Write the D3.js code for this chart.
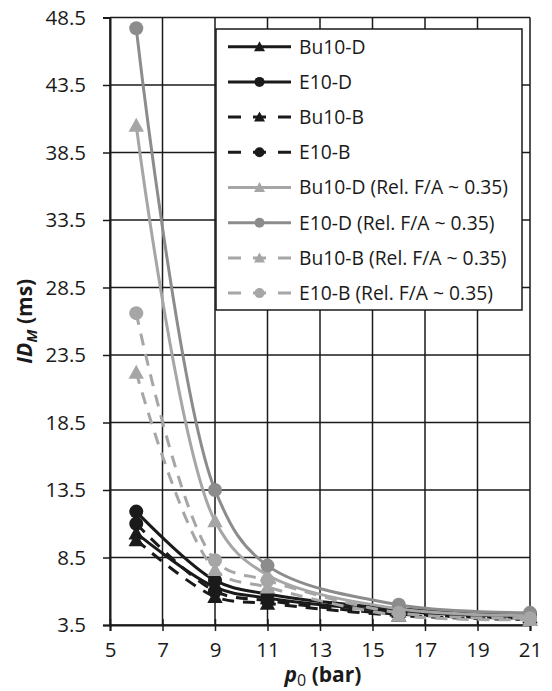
<!DOCTYPE html>
<html>
<head>
<meta charset="utf-8">
<script src="https://cdn.jsdelivr.net/npm/d3@7"></script>
<style>
  body { margin: 0; background: #fff; }
  svg text { font-family: "Open Sans", "Noto Sans", sans-serif; fill: #1a1a1a; }
</style>
</head>
<body>
<div id="chart"></div>
<script>
// Data
const pressures = [6, 9, 11, 16, 21];
const xTicks = [5, 7, 9, 11, 13, 15, 17, 19, 21];
const yTicks = [3.5, 8.5, 13.5, 18.5, 23.5, 28.5, 33.5, 38.5, 43.5, 48.5];

const bu10D = [10.3, 6.3, 5.5, 4.5, 4.1];
const e10D = [11.9, 6.8, 5.8, 4.7, 4.3];
const bu10B = [9.8, 5.6, 5.1, 4.2, 3.9];
const e10B = [11.0, 6.0, 5.3, 4.3, 4.0];
const bu10DRel = [40.5, 11.2, 7.2, 4.7, 4.2];
const e10DRel = [47.7, 13.5, 7.9, 5.0, 4.4];
const bu10BRel = [22.2, 7.6, 6.3, 4.2, 3.9];
const e10BRel = [26.6, 8.3, 6.8, 4.4, 4.0];

const seriesNames = [
  'Bu10-D', 'E10-D', 'Bu10-B', 'E10-B',
  'Bu10-D (Rel. F/A ~ 0.35)', 'E10-D (Rel. F/A ~ 0.35)',
  'Bu10-B (Rel. F/A ~ 0.35)', 'E10-B (Rel. F/A ~ 0.35)'
];
const seriesValues = [bu10D, e10D, bu10B, e10B, bu10DRel, e10DRel, bu10BRel, e10BRel];

// Styles per series
const styles = [
  { color: '#1a1a1a', dash: null, marker: 'tri' },
  { color: '#1a1a1a', dash: null, marker: 'circ' },
  { color: '#1a1a1a', dash: '12,9', marker: 'tri' },
  { color: '#1a1a1a', dash: '12,9', marker: 'circ' },
  { color: '#a6a6a6', dash: null, marker: 'tri' },
  { color: '#8c8c8c', dash: null, marker: 'circ' },
  { color: '#a6a6a6', dash: '12,9', marker: 'tri' },
  { color: '#a6a6a6', dash: '12,9', marker: 'circ' }
];

const W = 552, H = 691;
const plot = { left: 110, right: 530, top: 17.5, bottom: 625 };

const svg = d3.select('#chart').append('svg')
  .attr('width', W).attr('height', H);

const x = d3.scaleLinear().domain([5, 21]).range([plot.left, plot.right]);
const y = d3.scaleLinear().domain([3.5, 48.5]).range([plot.bottom, plot.top]);

// Grid
const grid = svg.append('g');
grid.selectAll('line.v').data(xTicks).enter().append('line')
  .attr('x1', d => x(d)).attr('x2', d => x(d))
  .attr('y1', plot.top).attr('y2', plot.bottom)
  .attr('stroke', '#1a1a1a').attr('stroke-width', 1.5);
grid.selectAll('line.h').data(yTicks).enter().append('line')
  .attr('x1', plot.left).attr('x2', plot.right)
  .attr('y1', d => y(d)).attr('y2', d => y(d))
  .attr('stroke', '#1a1a1a').attr('stroke-width', 1.5);

// Axes
const yAxis = d3.axisLeft(y).tickValues(yTicks).tickFormat(d3.format('.1f')).tickSize(7).tickPadding(17);
const xAxis = d3.axisBottom(x).tickValues(xTicks).tickFormat(d3.format('d')).tickSize(6).tickPadding(11);

const gy = svg.append('g').attr('transform', `translate(${plot.left},0)`).call(yAxis);
const gx = svg.append('g').attr('transform', `translate(0,${plot.bottom})`).call(xAxis);
[gx, gy].forEach(g => {
  g.select('.domain').attr('stroke', '#1a1a1a').attr('stroke-width', 2);
  g.selectAll('.tick line').attr('stroke', '#1a1a1a').attr('stroke-width', 1.5);
  g.selectAll('.tick text').style('font-size', '20.5px').attr('fill', '#1a1a1a');
});
gx.selectAll('.tick line').attr('y1', -6);

// Legend box
const legend = { x: 216, y: 29, w: 306, h: 281 };
svg.append('rect')
  .attr('x', legend.x).attr('y', legend.y)
  .attr('width', legend.w).attr('height', legend.h)
  .attr('fill', '#fff').attr('stroke', '#1a1a1a').attr('stroke-width', 1.5);

// Series
const line = d3.line()
  .x(d => x(d[0])).y(d => y(d[1]))
  .curve(d3.curveCatmullRom.alpha(0.5));

const triPath = s => `M0,${-s * 0.55}L${s * 0.55},${s * 0.45}L${-s * 0.55},${s * 0.45}Z`;

function drawMarker(g, kind, cx, cy, size, color) {
  if (kind === 'circ') {
    g.append('circle').attr('cx', cx).attr('cy', cy).attr('r', size / 2).attr('fill', color);
  } else {
    g.append('path').attr('d', triPath(size))
      .attr('transform', `translate(${cx},${cy})`).attr('fill', color);
  }
}

const seriesG = svg.append('g');
seriesValues.forEach((vals, i) => {
  const st = styles[i];
  const pts = pressures.map((p, j) => [p, vals[j]]);
  const g = seriesG.append('g');
  g.append('path')
    .attr('d', line(pts))
    .attr('fill', 'none')
    .attr('stroke', st.color)
    .attr('stroke-width', 3)
    .attr('stroke-dasharray', st.dash);
  pts.forEach(p => drawMarker(g, st.marker, x(p[0]), y(p[1]), 14, st.color));
});

// Legend entries
const legG = svg.append('g');
seriesNames.forEach((name, i) => {
  const st = styles[i];
  const ry = 46.7 + i * 35.2;
  legG.append('line')
    .attr('x1', 228).attr('x2', 291).attr('y1', ry).attr('y2', ry)
    .attr('stroke', st.color).attr('stroke-width', 3)
    .attr('stroke-dasharray', st.dash ? '13,12' : null);
  drawMarker(legG, st.marker, 259.5, ry, 10, st.color);
  legG.append('text')
    .attr('x', 299).attr('y', ry).attr('dy', '0.36em')
    .style('font-size', '19.3px')
    .text(name);
});

// Axis titles
const xt = svg.append('text')
  .attr('x', 323).attr('y', 682)
  .attr('text-anchor', 'middle')
  .style('font-size', '21px').style('font-weight', 'bold');
xt.append('tspan').style('font-style', 'italic').text('p');
xt.append('tspan').attr('dy', 4).style('font-weight', 'normal').style('font-size', '16px').text('0');
xt.append('tspan').attr('dy', -4).text(' (bar)');

const yt = svg.append('text')
  .attr('transform', `translate(32,${(plot.top + plot.bottom) / 2}) rotate(-90)`)
  .attr('text-anchor', 'middle')
  .style('font-size', '21px').style('font-weight', 'bold');
yt.append('tspan').style('font-style', 'italic').text('ID');
yt.append('tspan').attr('dy', 5).style('font-style', 'italic').style('font-size', '15px').text('M');
yt.append('tspan').attr('dy', -5).text(' (ms)');
</script>
</body>
</html>
